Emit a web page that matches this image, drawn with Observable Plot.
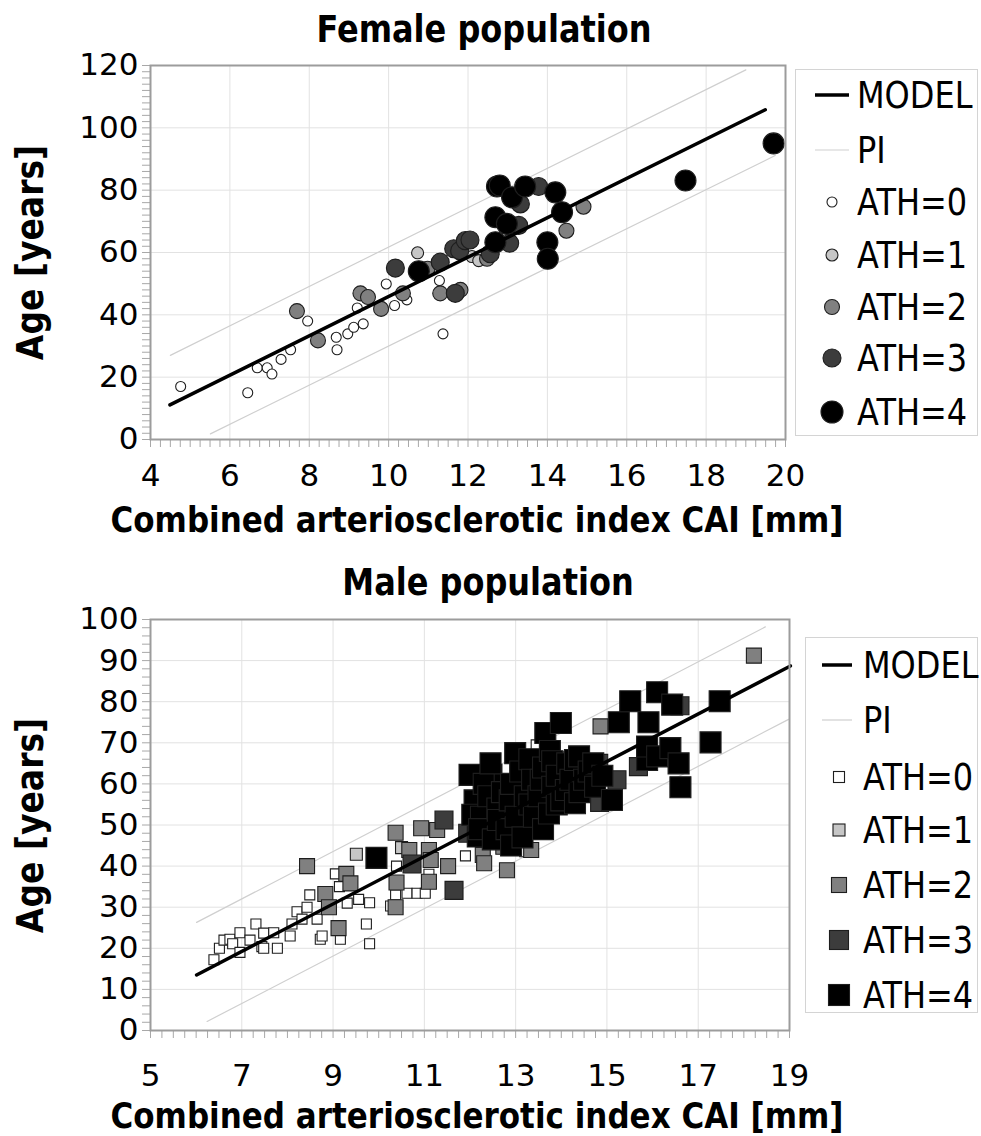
<!DOCTYPE html>
<html><head><meta charset="utf-8">
<script src="https://cdn.jsdelivr.net/npm/d3@7"></script>
<script src="https://cdn.jsdelivr.net/npm/@observablehq/plot@0.6"></script>
<style>
html,body{margin:0;padding:0;background:#fff;}
#root{position:relative;width:981px;height:1136px;overflow:hidden;font-family:"DejaVu Sans",sans-serif;color:#000;}
.abs{position:absolute;white-space:nowrap;line-height:1;}
.legbox{position:absolute;border:1px solid #d4d4d4;background:#fff;box-sizing:border-box;}
</style></head><body><div id="root"></div>
<script>
// ---------- data ----------
const athLabels = ["ATH=0","ATH=1","ATH=2","ATH=3","ATH=4"];
const femaleXTicks = [4,6,8,10,12,14,16,18,20];
const femaleYTicks = [0,20,40,60,80,100,120];
const maleXTicks = [5,7,9,11,13,15,17,19];
const maleYTicks = [0,10,20,30,40,50,60,70,80,90,100];

// female: [CAI, age]
const femaleATH0 = [[4.76,17],[6.45,15],[6.69,23],[6.94,23],[7.06,21],[7.29,25.7],[7.53,28.8],[7.96,38],[8.68,32.8],[8.70,28.8],[8.97,33.9],[9.12,36],[9.36,37.1],[9.21,42.2],[9.94,49.9],[10.15,43],[10.46,44.8],[11.28,51],[11.37,33.9]];
const femaleATH1 = [[10.73,59.9],[12.1,58.7],[12.27,57.4]];
const femaleATH2 = [[7.69,41.2],[8.22,31.8],[9.29,46.9],[9.48,45.7],[9.81,41.9],[10.36,46.9],[10.98,54.8],[11.30,46.9],[11.81,48],[12.48,58],[14.48,67],[14.91,74.7]];
const femaleATH3 = [[10.17,55],[11.30,56.9],[11.68,46.9],[11.64,61.2],[11.79,60.6],[11.93,63.8],[12.05,64],[12.56,59.6],[13.05,63],[13.28,68.7],[13.32,75.6],[13.78,81.2]];
const femaleATH4 = [[10.76,54],[12.69,63.3],[12.69,71.3],[12.98,69.2],[12.73,81.2],[12.8,81.5],[13.11,77.7],[13.44,81.2],[14.2,79.3],[14.37,72.9],[14.0,63.3],[14.01,58],[17.48,83.1],[19.7,95]];
const femaleModel = [[4.49,11.1],[19.49,105.8]];
const femalePIUpper = [[4.5,27],[19.0,118.6]];
const femalePILower = [[5.51,1.8],[19.74,91.1]];

// male: [CAI, age]
const maleATH0 = [[6.39,17.2],[6.51,20],[6.61,22],[6.74,22.2],[6.80,21.1],[6.96,23.8],[6.96,19],[7.18,22],[7.31,25.9],[7.44,20.4],[7.48,23.7],[7.48,20],[7.70,23.8],[7.78,20],[8.06,23],[8.10,25.9],[8.21,28.9],[8.32,27.1],[8.43,30],[8.49,33],[8.65,27.1],[8.72,22.2],[8.76,23],[9.05,38.1],[9.14,35],[9.16,22.2],[9.31,31],[9.56,31.9],[9.73,25.9],[9.80,21.1],[9.80,31.1],[10.26,30.3],[10.37,33],[10.39,40],[10.62,33.4],[10.84,33.4],[11.02,33.4],[11.1,38],[11.9,42.5],[12.6,48],[13.2,43.5],[13.45,69.5]];
const maleATH1 = [[9.51,42.9],[10.5,44.5],[12.4,47],[13.5,50.4],[14.1,66.5]];
const maleATH2 = [[8.43,40],[8.83,33.2],[8.91,30],[9.12,24.9],[9.29,38.1],[9.38,35.8],[10.37,48.1],[10.39,36],[10.37,30],[10.67,43.9],[10.93,49.2],[11.10,43.9],[11.10,36.2],[11.14,41.5],[11.28,48.8],[11.52,40],[12.28,42.7],[12.31,40.7],[12.73,44.7],[12.81,39],[13.34,43.9],[14.86,74],[18.22,91.2]];
const maleATH3 = [[10.73,40.5],[11.43,51.2],[11.65,34.1],[11.95,48],[13.17,58.5],[13.17,50.4],[14.82,65],[14.84,55.5],[15.22,61],[15.69,64.2],[16.6,79]];
const maleATH4 = [[9.95,42],[11.99,62.2],[12.47,62.2],[12.1,56],[12.05,52.5],[12.24,52],[12.17,47.2],[12.2,49],[12.3,60],[12.4,57],[12.45,65],[12.5,46.5],[12.6,54],[12.61,51.2],[12.7,58],[12.8,49],[12.87,56],[12.9,45],[12.9,60],[12.99,67.5],[13.0,52],[13.1,63],[13.15,47],[13.2,57],[13.3,55],[13.3,66],[13.36,61],[13.4,52],[13.5,57],[13.55,61],[13.6,49],[13.6,64],[13.65,72.4],[13.73,52.8],[13.75,68],[13.8,59.3],[13.8,65.5],[13.9,55],[13.9,62],[13.99,74.8],[14.0,56],[14.1,58.5],[14.13,65],[14.2,61],[14.3,55.3],[14.3,65.8],[14.39,66.7],[14.4,58],[14.5,61],[14.6,63],[14.7,65],[14.74,59.3],[14.9,62],[15.11,56.1],[15.26,75],[15.51,80.1],[15.88,65.8],[15.88,69.1],[15.91,75],[16.1,66.7],[16.1,82.3],[16.39,68.7],[16.43,79.3],[16.57,65],[16.61,59.2],[17.27,70.1],[17.47,80.1]];
const maleModel = [[6.01,13.5],[19.02,88.7]];
const malePIUpper = [[6.01,26.3],[18.47,98.2]];
const malePILower = [[6.24,2.2],[18.98,75.7]];

// ---------- styles ----------
const fills = ["#ffffff","#c6c6c6","#808080","#3c3c3c","#000000"];
const circleR = [5,6,7.5,9,10.5];
const squareSide = [10,12,15,18,21];
const legendCircleR = [5,6,7.5,9,11];
const legendSquare = [11,12,15,19,21];
const FONT = "DejaVu Sans, sans-serif";
const root = document.getElementById("root");

function range(a,b,s){const o=[];for(let v=a;v<=b+1e-9;v+=s)o.push(+v.toFixed(4));return o;}

function panel({groups, model, up, lo, xd, yd, xt, yt, xMinor, yMinor, symbol, sizes, top, height, mt, mb, mr, xPad}) {
  const marks = [
    Plot.gridX(xt, {stroke:"#e2e2e2", strokeOpacity:1}),
    Plot.gridY(yt, {stroke:"#e2e2e2", strokeOpacity:1}),
    Plot.axisX(xMinor, {tickSize:8, stroke:"#a8a8a8", fill:"none", label:null}),
    Plot.axisY(yMinor, {tickSize:8, stroke:"#a8a8a8", fill:"none", label:null}),
    Plot.axisX(xt, {tickSize:0, tickPadding:xPad, label:null, fill:"#000"}),
    Plot.axisY(yt, {tickSize:0, tickPadding:12, label:null, fill:"#000"}),
    Plot.line(up, {x:d=>d[0], y:d=>d[1], stroke:"#cfcfcf", strokeWidth:1.2}),
    Plot.line(lo, {x:d=>d[0], y:d=>d[1], stroke:"#cfcfcf", strokeWidth:1.2})
  ];
  groups.forEach((g,i)=>{
    const r = symbol === "square" ? sizes[i]/Math.sqrt(Math.PI) : sizes[i];
    marks.push(Plot.dot(g, {x:d=>d[0], y:d=>d[1], r, symbol, fill:fills[i], stroke:"#1e1e1e", strokeWidth:1.1}));
  });
  marks.push(Plot.line(model, {x:d=>d[0], y:d=>d[1], stroke:"#000", strokeWidth:3.5}));
  marks.push(Plot.frame({stroke:"#9c9c9c", strokeWidth:2}));
  const svg = Plot.plot({
    width:981, height, marginLeft:150, marginRight:mr, marginTop:mt, marginBottom:mb,
    x:{domain:xd, label:null}, y:{domain:yd, label:null},
    style:{fontFamily:FONT, fontSize:"31px", background:"transparent", color:"#000", overflow:"visible"},
    marks
  });
  svg.style.position = "absolute"; svg.style.left = "0px"; svg.style.top = top + "px";
  root.appendChild(svg);
}

function text(str, cx, cy, fs, opts = {}) {
  const d = document.createElement("div");
  d.className = "abs"; d.textContent = str;
  d.style.fontSize = fs + "px";
  if (opts.bold) d.style.fontWeight = "bold";
  d.style.textAlign = "center";
  if (opts.rotate) {
    d.style.width = "400px";
    d.style.left = (cx - 200) + "px"; d.style.top = (cy - fs/2) + "px";
    d.style.transform = "rotate(-90deg) scaleY(1.15)";
  } else {
    d.style.width = "900px";
    d.style.left = (cx - 450) + "px"; d.style.top = (cy - fs/2) + "px";
    d.style.transform = "scaleY(1.15)";
  }
  root.appendChild(d);
}

function legend({left, top, width, height, ys, swX, txtX, lineX1, lineX2, symbol, sizes}) {
  const box = document.createElement("div");
  box.className = "legbox";
  Object.assign(box.style, {left:left+"px", top:top+"px", width:width+"px", height:height+"px"});
  root.appendChild(box);
  const ns = "http://www.w3.org/2000/svg";
  const svg = document.createElementNS(ns, "svg");
  svg.setAttribute("width", 981); svg.setAttribute("height", 1136);
  Object.assign(svg.style, {position:"absolute", left:"0px", top:"0px", overflow:"visible"});
  let html = "";
  html += `<line x1="${lineX1}" x2="${lineX2}" y1="${ys[0]}" y2="${ys[0]}" stroke="#000" stroke-width="3.5"/>`;
  html += `<line x1="${lineX1}" x2="${lineX2}" y1="${ys[1]}" y2="${ys[1]}" stroke="#cfcfcf" stroke-width="1.2"/>`;
  sizes.forEach((s,i)=>{
    const y = ys[i+2];
    if (symbol === "circle") html += `<circle cx="${swX}" cy="${y}" r="${s}" fill="${fills[i]}" stroke="#1e1e1e" stroke-width="1.1"/>`;
    else html += `<rect x="${swX - s/2}" y="${y - s/2}" width="${s}" height="${s}" fill="${fills[i]}" stroke="#1e1e1e" stroke-width="1.1"/>`;
  });
  svg.innerHTML = html;
  root.appendChild(svg);
  const labels = ["MODEL","PI"].concat(athLabels);
  labels.forEach((l,i)=>{
    const d = document.createElement("div");
    d.className = "abs"; d.textContent = l;
    Object.assign(d.style, {left:txtX+"px", top:(ys[i]-16)+"px", fontSize:"32px", transform:"scaleY(1.15)"});
    root.appendChild(d);
  });
}

// ---------- female ----------
panel({
  groups:[femaleATH0,femaleATH1,femaleATH2,femaleATH3,femaleATH4],
  model:femaleModel, up:femalePIUpper, lo:femalePILower,
  xd:[4,20], yd:[0,120], xt:femaleXTicks, yt:femaleYTicks,
  xMinor:range(4,20,0.25), yMinor:range(0,120,2),
  symbol:"circle", sizes:circleR, top:0, height:500, mt:65, mb:61, mr:196, xPad:24
});
text("Female population", 484, 29, 32, {bold:true});
text("Combined arteriosclerotic index CAI [mm]", 477, 519, 31, {bold:true});
text("Age [years]", 30, 252, 33, {bold:true, rotate:true});
legend({left:795, top:69, width:183, height:367, ys:[95,150,202,255,307,358,412],
  swX:832, txtX:857, lineX1:815, lineX2:849, symbol:"circle", sizes:legendCircleR});

// ---------- male ----------
panel({
  groups:[maleATH0,maleATH1,maleATH2,maleATH3,maleATH4],
  model:maleModel, up:malePIUpper, lo:malePILower,
  xd:[5,19], yd:[0,100], xt:maleXTicks, yt:maleYTicks,
  xMinor:range(5,19,0.25), yMinor:range(0,100,2),
  symbol:"square", sizes:squareSide, top:560, height:540, mt:59, mb:70, mr:192, xPad:33
});
text("Male population", 488, 582, 32, {bold:true});
text("Combined arteriosclerotic index CAI [mm]", 477, 1115, 31, {bold:true});
text("Age [years]", 30, 825, 33, {bold:true, rotate:true});
legend({left:805, top:637, width:173, height:376, ys:[665,720,777,830,885,940,995],
  swX:839, txtX:863, lineX1:822, lineX2:852, symbol:"square", sizes:legendSquare});
</script></body></html>
